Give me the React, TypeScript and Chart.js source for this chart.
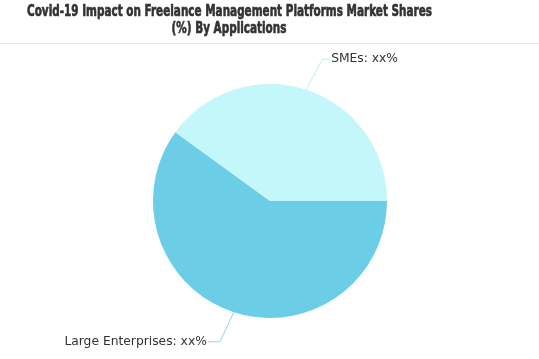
import React, { useEffect, useRef } from "react";
import { Chart, registerables } from "chart.js";

Chart.register(...registerables);

const categories = ["Large Enterprises", "SMEs"];
const shares = [60, 40];
const labelTexts = ["Large Enterprises: xx%", "SMEs: xx%"];
const colors = ["#6ccde6", "#c4f7f9"];
const lineColors = ["#8fd6ea", "#b8f0f4"];
const titleLines = [
  "Covid-19 Impact on Freelance Management Platforms Market Shares",
  "(%) By Applications",
];

function fitText(ctx: any, text: string, cx: number, cy: number, width: number) {
  const w = ctx.measureText(text).width;
  ctx.save();
  ctx.translate(cx, cy);
  ctx.scale(width / w, 1);
  ctx.fillText(text, 0, 0);
  ctx.strokeText(text, 0, 0);
  ctx.restore();
}

const overlay = {
  id: "overlay",
  afterDraw(chart: any) {
    const ctx = chart.ctx;
    ctx.save();
    // title
    ctx.fillStyle = "#333";
    ctx.strokeStyle = "#333";
    ctx.lineWidth = 0.6;
    ctx.textAlign = "center";
    ctx.textBaseline = "middle";
    ctx.font = "bold 15px 'DejaVu Sans Condensed', 'DejaVu Sans', sans-serif";
    const full = ctx.measureText(titleLines[0]).width;
    const ratio = 405 / full;
    fitText(ctx, titleLines[0], 229.5, 12.5, 405);
    fitText(ctx, titleLines[1], 229, 29.5, ctx.measureText(titleLines[1]).width * ratio);
    // separator
    ctx.strokeStyle = "#e6e6e6";
    ctx.lineWidth = 1;
    ctx.beginPath();
    ctx.moveTo(0, 43.5);
    ctx.lineTo(539, 43.5);
    ctx.stroke();

    // labels with leader lines
    const meta = chart.getDatasetMeta(0);
    ctx.font = "12.3px 'DejaVu Sans', sans-serif";
    ctx.textBaseline = "middle";
    meta.data.forEach((arc: any, i: number) => {
      const { x, y, startAngle, endAngle, outerRadius } = arc.getProps(
        ["x", "y", "startAngle", "endAngle", "outerRadius"],
        true
      );
      const mid = (startAngle + endAngle) / 2;
      const px = x + Math.cos(mid) * outerRadius;
      const py = y + Math.sin(mid) * outerRadius;
      const right = Math.cos(mid) >= 0;
      const down = Math.sin(mid) >= 0;
      const ex = px + (right ? 16 : -14);
      const ey = py + (down ? 29.5 : -30.5);
      const hx = ex + (right ? 8 : -12);
      ctx.strokeStyle = lineColors[i];
      ctx.lineWidth = 1;
      ctx.beginPath();
      ctx.moveTo(px, py);
      ctx.lineTo(ex, ey);
      ctx.lineTo(hx, ey);
      ctx.stroke();
      ctx.fillStyle = "#333";
      ctx.textAlign = right ? "left" : "right";
      ctx.fillText(labelTexts[i], hx + (right ? 1 : -1), ey);
    });
    ctx.restore();
  },
};

export default function App() {
  const ref = useRef<HTMLCanvasElement>(null);
  useEffect(() => {
    document.body.style.margin = "0";
    const chart = new Chart(ref.current!, {
      type: "pie",
      data: {
        labels: categories,
        datasets: [
          {
            data: shares,
            backgroundColor: colors,
            borderWidth: 0,
          },
        ],
      },
      options: {
        animation: false,
        responsive: false,
        rotation: 90,
        layout: { padding: { top: 84, bottom: 41, left: 36, right: 35 } },
        plugins: {
          legend: { display: false },
          tooltip: { enabled: false },
          title: { display: false },
        },
      },
      plugins: [overlay],
    });
    return () => chart.destroy();
  }, []);
  return (
    <div style={{ width: 539, height: 359 }}>
      <canvas ref={ref} width={539} height={359} style={{ display: "block" }} />
    </div>
  );
}
